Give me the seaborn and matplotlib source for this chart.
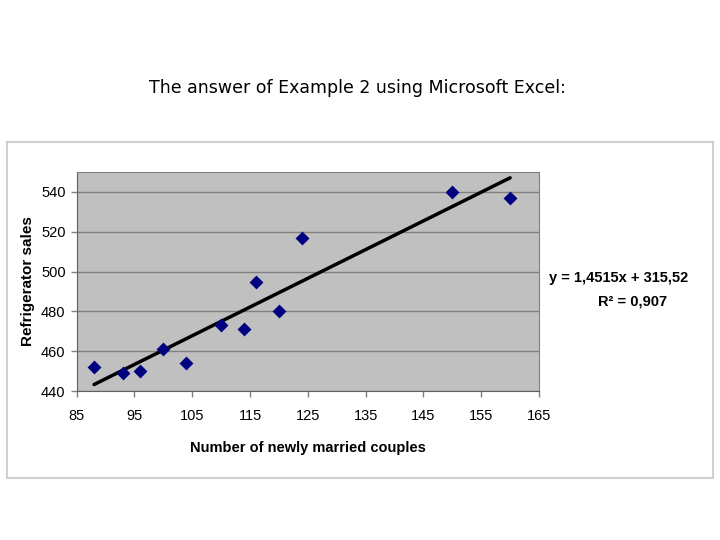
import matplotlib
matplotlib.use("Agg")
import matplotlib.pyplot as plt
from matplotlib.patches import Rectangle
import seaborn as sns
import pandas as pd

# data
couples = [88, 93, 96, 100, 104, 110, 114, 116, 120, 124, 150, 160]
sales = [452, 449, 450, 461, 454, 473, 471, 495, 480, 517, 540, 537]
x_ticks = [85, 95, 105, 115, 125, 135, 145, 155, 165]
y_ticks = [440, 460, 480, 500, 520, 540]

df = pd.DataFrame({"couples": couples, "sales": sales})

sns.set_style("white")
plt.rcParams["font.family"] = ["Liberation Sans", "DejaVu Sans"]
plt.rcParams["text.color"] = "black"
plt.rcParams["axes.labelcolor"] = "black"
plt.rcParams["xtick.color"] = "black"
plt.rcParams["ytick.color"] = "black"

fig = plt.figure(figsize=(7.2, 5.4), dpi=100)

# outer chart frame
fig.patches.append(Rectangle((7 / 720, 1 - 478 / 540), 706 / 720, 336 / 540,
                             transform=fig.transFigure, facecolor="none",
                             edgecolor="#d0d0d0", linewidth=1.5, zorder=-1))

ax = fig.add_axes([76.7 / 720, 1 - 391 / 540, 462.3 / 720, 219 / 540])
ax.set_facecolor("#c0c0c0")

sns.regplot(data=df, x="couples", y="sales", ax=ax, ci=None,
            marker="D",
            scatter_kws={"color": "#000080", "s": 50, "alpha": 1,
                         "zorder": 3, "linewidths": 0},
            line_kws={"color": "black", "linewidth": 2.5, "zorder": 2})

ax.set_xlim(85, 165)
ax.set_ylim(440, 550)
ax.set_xticks(x_ticks)
ax.set_yticks(y_ticks)
ax.yaxis.grid(True, color="#808080", linewidth=1)
ax.set_axisbelow(True)
ax.tick_params(axis="both", labelsize=10.5, length=4, width=1,
               color="#808080", labelcolor="black", direction="out", pad=9,
               bottom=True, left=True)
ax.tick_params(axis="y", pad=4)
for side in ["top", "right"]:
    ax.spines[side].set_color("#808080")
for side in ["left", "bottom"]:
    ax.spines[side].set_color("#606060")

ax.set_xlabel("Number of newly married couples", fontsize=10.5,
              fontweight="bold", labelpad=13)
ax.set_ylabel("Refrigerator sales", fontsize=11, fontweight="bold", labelpad=4)

fig.text(357 / 720, 1 - 88 / 540, "The answer of Example 2 using Microsoft Excel:",
         ha="center", va="center", fontsize=12.5, family=["DejaVu Sans"])

fig.text(619 / 720, 1 - 278 / 540, "y = 1,4515x + 315,52", ha="center",
         va="center", fontsize=10.5, fontweight="bold")
fig.text(633 / 720, 1 - 302 / 540, "R² = 0,907", ha="center",
         va="center", fontsize=10.5, fontweight="bold")

fig.savefig("out.png", dpi=100)
